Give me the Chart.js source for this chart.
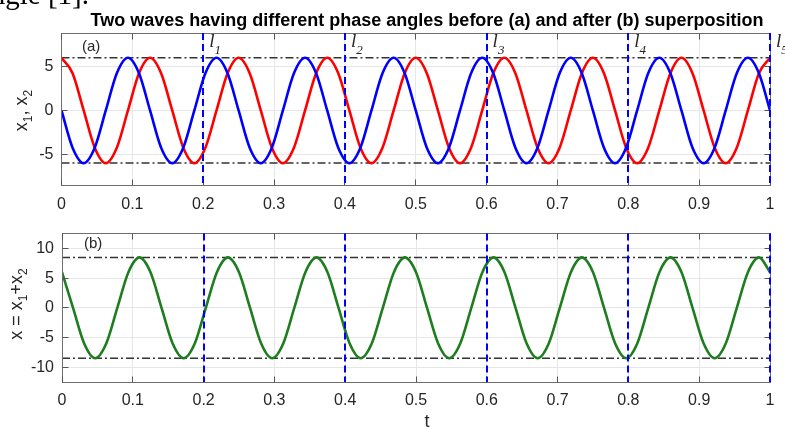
<!DOCTYPE html>
<html><head><meta charset="utf-8">
<script src="https://cdn.jsdelivr.net/npm/chart.js@4.4.0/dist/chart.umd.min.js"></script>
<style>
html,body{margin:0;padding:0;background:#fff;}
#wrap{position:relative;width:785px;height:429px;overflow:hidden;background:#fff;}
canvas{position:absolute;left:0;}
#ca{top:0;}
#cb{top:216px;}
</style></head><body>
<div id="wrap"><canvas id="ca" width="785" height="216"></canvas><canvas id="cb" width="785" height="213"></canvas></div>
<script>
// ---- data ----
const tValues = [
 0, 0.0156, 0.0313, 0.0469, 0.0625, 0.0781, 0.0938, 0.1094,
 0.125, 0.1406, 0.1563, 0.1719, 0.1875, 0.2031, 0.2188, 0.2344,
 0.25, 0.2656, 0.2813, 0.2969, 0.3125, 0.3281, 0.3438, 0.3594,
 0.375, 0.3906, 0.4063, 0.4219, 0.4375, 0.4531, 0.4688, 0.4844,
 0.5, 0.5156, 0.5313, 0.5469, 0.5625, 0.5781, 0.5938, 0.6094,
 0.625, 0.6406, 0.6563, 0.6719, 0.6875, 0.7031, 0.7188, 0.7344,
 0.75, 0.7656, 0.7813, 0.7969, 0.8125, 0.8281, 0.8438, 0.8594,
 0.875, 0.8906, 0.9063, 0.9219, 0.9375, 0.9531, 0.9688, 0.9844,
 1
];
const x1Values = [
 0, -4.24, -6, -4.24, 0, 4.24, 6, 4.24,
 0, -4.24, -6, -4.24, 0, 4.24, 6, 4.24,
 0, -4.24, -6, -4.24, 0, 4.24, 6, 4.24,
 0, -4.24, -6, -4.24, 0, 4.24, 6, 4.24,
 0, -4.24, -6, -4.24, 0, 4.24, 6, 4.24,
 0, -4.24, -6, -4.24, 0, 4.24, 6, 4.24,
 0, -4.24, -6, -4.24, 0, 4.24, 6, 4.24,
 0, -4.24, -6, -4.24, 0, 4.24, 6, 4.24,
 0
];
const x2Values = [
 6, 4.24, 0, -4.24, -6, -4.24, 0, 4.24,
 6, 4.24, 0, -4.24, -6, -4.24, 0, 4.24,
 6, 4.24, 0, -4.24, -6, -4.24, 0, 4.24,
 6, 4.24, 0, -4.24, -6, -4.24, 0, 4.24,
 6, 4.24, 0, -4.24, -6, -4.24, 0, 4.24,
 6, 4.24, 0, -4.24, -6, -4.24, 0, 4.24,
 6, 4.24, 0, -4.24, -6, -4.24, 0, 4.24,
 6, 4.24, 0, -4.24, -6, -4.24, 0, 4.24,
 6
];
const sumValues = [
 6, 0, -6, -8.49, -6, 0, 6, 8.49,
 6, 0, -6, -8.49, -6, 0, 6, 8.49,
 6, 0, -6, -8.49, -6, 0, 6, 8.49,
 6, 0, -6, -8.49, -6, 0, 6, 8.49,
 6, 0, -6, -8.49, -6, 0, 6, 8.49,
 6, 0, -6, -8.49, -6, 0, 6, 8.49,
 6, 0, -6, -8.49, -6, 0, 6, 8.49,
 6, 0, -6, -8.49, -6, 0, 6, 8.49,
 6
];
const xTickValues = [0, 0.1, 0.2, 0.3, 0.4, 0.5, 0.6, 0.7, 0.8, 0.9, 1];
const yTicksA = [-5, 0, 5];
const yTicksB = [-10, -5, 0, 5, 10];
const levelsA = [6, -6];
const levelsB = [8.49, -8.49];
const tRange = [0, 1];
const rangeA = [-8.55, 8.82];
const rangeB = [-12.5, 12.5];
const markerT = [0.2, 0.4, 0.6, 0.8, 1.0];
const markerNames = ['1', '2', '3', '4', '5'];

// ---- styling ----
const SANS = '"Liberation Sans", Arial, sans-serif';
const SERIF = '"Liberation Serif", "Times New Roman", serif';
Chart.defaults.font.family = SANS;
Chart.defaults.font.size = 16;
Chart.defaults.color = '#262626';

function curve(vals, color) {
  return {data: tValues.map((t, i) => ({x: t, y: vals[i]})), borderColor: color,
    borderWidth: 2.6, pointRadius: 0, cubicInterpolationMode: 'monotone', fill: false};
}
function level(v) {
  return {data: [{x: tRange[0], y: v}, {x: tRange[1], y: v}], borderColor: '#333333',
    borderWidth: 1.5, borderDash: [8, 3, 2, 3], pointRadius: 0, fill: false};
}

function richWidth(ctx, parts) {
  let w = 0;
  for (const p of parts) { ctx.font = p.font; w += ctx.measureText(p.text).width; }
  return w;
}
function drawRich(ctx, parts, x, y) {
  let cx = x;
  for (const p of parts) {
    ctx.font = p.font;
    ctx.fillText(p.text, cx, y + (p.dy || 0));
    cx += ctx.measureText(p.text).width;
  }
}

const framePlugin = {
  id: 'frame',
  afterDatasetsDraw(chart) {
    const ctx = chart.ctx, a = chart.chartArea;
    const xs = chart.scales.x, ys = chart.scales.y;
    ctx.save();
    // box
    ctx.strokeStyle = '#6f6f6f';
    ctx.lineWidth = 1;
    const L = Math.floor(a.left) + 0.5, R = Math.floor(a.right) + 0.5;
    const T = Math.floor(a.top) + 0.5, B = Math.floor(a.bottom) + 0.5;
    ctx.strokeRect(L, T, R - L, B - T);
    // inward ticks
    ctx.strokeStyle = '#555';
    ctx.beginPath();
    for (const v of xTickValues) {
      const px = Math.floor(xs.getPixelForValue(v)) + 0.5;
      ctx.moveTo(px, B); ctx.lineTo(px, B - 6);
      ctx.moveTo(px, T); ctx.lineTo(px, T + 6);
    }
    for (const tk of ys.ticks) {
      const py = Math.floor(ys.getPixelForValue(tk.value)) + 0.5;
      ctx.moveTo(L, py); ctx.lineTo(L + 6, py);
      ctx.moveTo(R, py); ctx.lineTo(R - 6, py);
    }
    ctx.stroke();
    // vertical blue dashed marker lines
    ctx.strokeStyle = '#0000ff';
    ctx.lineWidth = 2;
    ctx.setLineDash([7, 4]);
    for (const t of markerT) {
      const px = Math.round(xs.getPixelForValue(t));
      ctx.beginPath(); ctx.moveTo(px, a.top); ctx.lineTo(px, a.bottom); ctx.stroke();
    }
    ctx.setLineDash([]);
    ctx.restore();
  }
};

function makeChart(canvas, opts) {
  return new Chart(canvas, {
    type: 'line',
    data: {datasets: opts.datasets},
    options: {
      responsive: false, animation: false, devicePixelRatio: 1,
      layout: {padding: {left: 0, right: 15, top: opts.padTop, bottom: 0}},
      plugins: {legend: {display: false}, tooltip: {enabled: false}, title: {display: false}},
      scales: {
        x: {type: 'linear', min: tRange[0], max: tRange[1],
          afterBuildTicks: s => { s.ticks = xTickValues.map(v => ({value: v})); },
          afterFit: s => { s.height = opts.xHeight; },
          grid: {color: '#e6e6e6', drawTicks: false}, border: {display: false},
          ticks: {padding: 9, maxRotation: 0, autoSkip: false,
            callback: v => String(Number(v.toFixed(1))), font: {size: 16}}},
        y: {type: 'linear', min: opts.yMin, max: opts.yMax,
          afterBuildTicks: s => { s.ticks = opts.yTicks.map(v => ({value: v})); },
          afterFit: s => { s.width = opts.yWidth; },
          grid: {color: '#e6e6e6', drawTicks: false}, border: {display: false},
          ticks: {padding: 8, font: {size: 16}}}
      }
    },
    plugins: [framePlugin, opts.textPlugin]
  });
}

const textA = {
  id: 'textA',
  afterDraw(chart) {
    const ctx = chart.ctx, xs = chart.scales.x;
    ctx.save();
    ctx.fillStyle = '#000';
    ctx.textBaseline = 'alphabetic';
    // cropped document text at top-left
    ctx.font = '29px ' + SERIF;
    ctx.textAlign = 'right';
    ctx.fillText('angle [1].', 89, 4);
    // title
    ctx.textAlign = 'center';
    ctx.font = 'bold 18px ' + SANS;
    ctx.fillText('Two waves having different phase angles before (a) and after (b) superposition', 427, 26);
    ctx.textAlign = 'left';
    ctx.fillStyle = '#262626';
    ctx.font = '15px ' + SANS;
    ctx.fillText('(a)', 82, 51);
    // l labels
    for (let i = 0; i < markerT.length; i++) {
      const px = xs.getPixelForValue(markerT[i]) + 6;
      const parts = [{text: 'l', font: 'italic 19px ' + SERIF},
                     {text: markerNames[i], font: 'italic 13px ' + SERIF, dy: 7}];
      drawRich(ctx, parts, px, 47);
    }
    // y label
    const parts = [{text: 'x', font: '18px ' + SANS}, {text: '1', font: '12px ' + SANS, dy: 5},
                   {text: ', x', font: '18px ' + SANS}, {text: '2', font: '12px ' + SANS, dy: 5}];
    ctx.translate(27, 110.5);
    ctx.rotate(-Math.PI / 2);
    drawRich(ctx, parts, -richWidth(ctx, parts) / 2, 0);
    ctx.restore();
  }
};

const textB = {
  id: 'textB',
  afterDraw(chart) {
    const ctx = chart.ctx;
    ctx.save();
    ctx.fillStyle = '#262626';
    ctx.textBaseline = 'alphabetic';
    ctx.textAlign = 'left';
    ctx.font = '15px ' + SANS;
    ctx.fillText('(b)', 84, 32);
    ctx.textAlign = 'center';
    ctx.font = '18px ' + SANS;
    ctx.fillText('t', 427, 211);
    ctx.textAlign = 'left';
    const parts = [{text: 'x = x', font: '18px ' + SANS}, {text: '1', font: '12px ' + SANS, dy: 5},
                   {text: '+x', font: '18px ' + SANS}, {text: '2', font: '12px ' + SANS, dy: 5}];
    ctx.translate(22, 88);
    ctx.rotate(-Math.PI / 2);
    drawRich(ctx, parts, -richWidth(ctx, parts) / 2, 0);
    ctx.restore();
  }
};

makeChart(document.getElementById('ca'), {
  datasets: [curve(x1Values, '#0000ff'), curve(x2Values, '#ff0000'), level(levelsA[0]), level(levelsA[1])],
  yMin: rangeA[0], yMax: rangeA[1], yTicks: yTicksA, padTop: 33, xHeight: 216 - 185.5, yWidth: 61.5,
  textPlugin: textA
});
makeChart(document.getElementById('cb'), {
  datasets: [curve(sumValues, '#1e7d1e'), level(levelsB[0]), level(levelsB[1])],
  yMin: rangeB[0], yMax: rangeB[1], yTicks: yTicksB, padTop: 14, xHeight: 213 - 166, yWidth: 62,
  textPlugin: textB
});
</script>
</body></html>
